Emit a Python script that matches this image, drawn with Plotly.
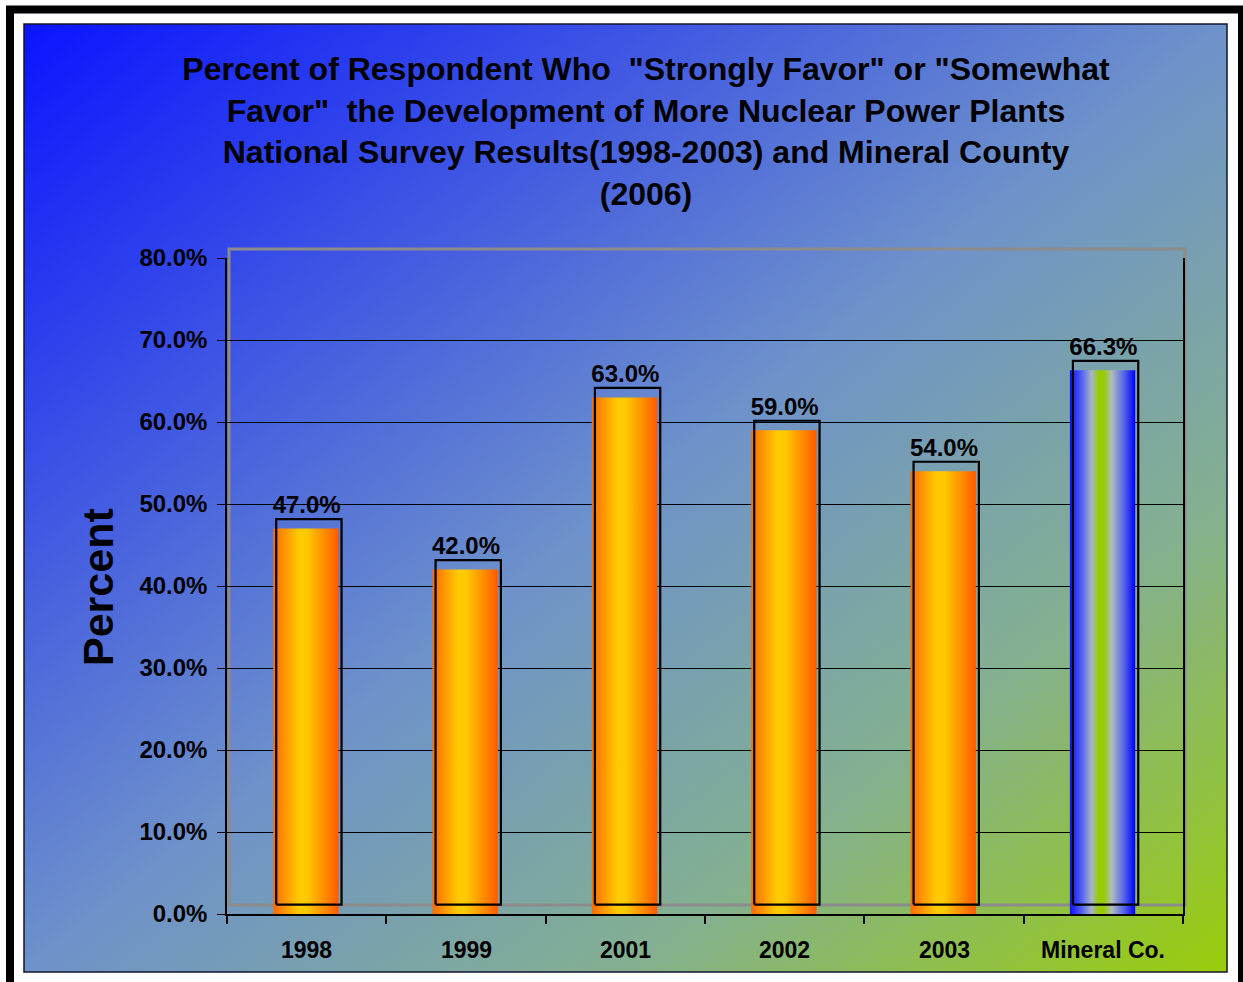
import base64
import plotly.graph_objects as go

# data
categories = ["1998", "1999", "2001", "2002", "2003", "Mineral Co."]
favor_pct = [47.0, 42.0, 63.0, 59.0, 54.0, 66.3]

title_text = ('<b>Percent of Respondent Who\u00a0 "Strongly Favor" or "Somewhat<br>'
              'Favor"\u00a0 the Development of More Nuclear Power Plants<br>'
              'National Survey Results(1998-2003) and Mineral County<br>(2006)</b>')

W, H = 1243, 982
L, R, T, B = 227, 1183, 258, 914   # plot area in pixels
FONT = "Liberation Sans, Arial, sans-serif"

def px(x):
    return (x - L) / (R - L)

def py(y):
    return (B - y) / (B - T)

orange_scale = [[0, "#FF6A00"], [0.4, "#FFCC00"], [0.52, "#FFC800"], [1, "#FF5A00"]]
mineral_scale = [[0, "#1010FF"], [0.18, "#5060EE"], [0.33, "#A8B4C8"], [0.44, "#99CC00"],
                 [0.52, "#99CC00"], [0.64, "#B0BCC0"], [0.82, "#5868E8"], [1, "#0000FF"]]

# diagonal background gradient as svg image
bg_svg = ('<svg xmlns="http://www.w3.org/2000/svg" width="1203" height="948" preserveAspectRatio="none">'
          '<defs><linearGradient id="g" x1="0" y1="0" x2="1" y2="1">'
          '<stop offset="0" stop-color="#0A14FF"/>'
          '<stop offset="0.5" stop-color="#6E92CA"/>'
          '<stop offset="0.75" stop-color="#84B090"/>'
          '<stop offset="1" stop-color="#9ACD0A"/>'
          '</linearGradient></defs>'
          '<rect width="1203" height="948" fill="url(#g)"/></svg>')
bg_uri = "data:image/svg+xml;base64," + base64.b64encode(bg_svg.encode()).decode()

fig = go.Figure()

x_shift, y_shift = 0.019, 1.15
for i, (cat, v) in enumerate(zip(categories, favor_pct)):
    x0, x1 = i - 0.21, i + 0.2
    fig.add_trace(go.Scatter(
        x=[x0, x1, x1, x0, x0], y=[0, 0, v, v, 0],
        mode="lines", line=dict(width=0), fill="toself",
        fillgradient=dict(type="horizontal",
                          colorscale=mineral_scale if cat == "Mineral Co." else orange_scale),
        showlegend=False, hoverinfo="skip"))
    ox0, ox1 = x0 + x_shift, x1 + x_shift
    fig.add_trace(go.Scatter(
        x=[ox0, ox1, ox1, ox0, ox0], y=[y_shift, y_shift, v + y_shift, v + y_shift, y_shift],
        mode="lines", line=dict(color="black", width=2.2),
        showlegend=False, hoverinfo="skip"))

# value labels
fig.add_trace(go.Scatter(
    x=list(range(len(categories))), y=[v + y_shift for v in favor_pct],
    mode="text", text=[f"{v:.1f}%" for v in favor_pct], textposition="top center",
    textfont=dict(family=FONT, size=24, color="black", weight="bold"),
    showlegend=False, hoverinfo="skip", cliponaxis=False))

# category labels under the axis
cat_labels = [dict(text=f"<b>{c}</b>", xref="x", yref="paper", x=i, y=py(950),
                   xanchor="center", yanchor="middle", showarrow=False,
                   font=dict(family=FONT, size=23, color="black"))
              for i, c in enumerate(categories)]

fig.update_layout(
    width=W, height=H,
    margin=dict(l=L, r=W - R, t=T, b=H - B),
    paper_bgcolor="white", plot_bgcolor="rgba(0,0,0,0)",
    title=dict(text=title_text, x=646 / W, xanchor="center", xref="container",
               y=1 - 80 / H, yanchor="top", yref="container",
               font=dict(family=FONT, size=32, color="black")),
    xaxis=dict(range=[-0.5, len(categories) - 0.5],
               tickvals=[i - 0.5 for i in range(len(categories) + 1)],
               showticklabels=False, ticks="outside", ticklen=8, tickcolor="black",
               tickwidth=1.5, showgrid=False, zeroline=False,
               showline=True, linecolor="black", linewidth=1.5),
    yaxis=dict(range=[0, 80], dtick=10, tickformat=".1f", ticksuffix="%",
               showgrid=True, gridcolor="black", gridwidth=1,
               zeroline=False, showline=True, linecolor="black", linewidth=1.5,
               mirror=True, ticks="outside", ticklen=8, tickcolor="black",
               ticklabelstandoff=5,
               tickfont=dict(family=FONT, size=24, color="black", weight="bold")),
    images=[dict(source=bg_uri, xref="paper", yref="paper",
                 x=px(24), y=py(24), sizex=px(1227) - px(24), sizey=py(24) - py(972),
                 xanchor="left", yanchor="top", sizing="stretch", layer="below")],
    shapes=[
        # outer black frame
        dict(type="rect", xref="paper", yref="paper",
             x0=px(10), x1=px(1242), y0=py(9.5), y1=py(992),
             line=dict(color="black", width=8), layer="below"),
        # inner box border
        dict(type="rect", xref="paper", yref="paper",
             x0=px(24), x1=px(1227), y0=py(24), y1=py(972),
             line=dict(color="#151530", width=1.5), layer="below"),
        # gray back wall
        dict(type="rect", xref="paper", yref="paper",
             x0=px(229), x1=px(1185), y0=py(905), y1=py(249),
             line=dict(color="#8C8C8C", width=3), layer="below"),
    ],
    annotations=[dict(text="<b>Percent</b>", textangle=-90, xref="paper", yref="paper",
                      x=px(98), y=py(587), xanchor="center", yanchor="middle",
                      showarrow=False, font=dict(family=FONT, size=43, color="black"))]
                + cat_labels,
)

fig.write_html("out.html", config={"displayModeBar": False},
               post_script="document.body.style.margin='0';")
